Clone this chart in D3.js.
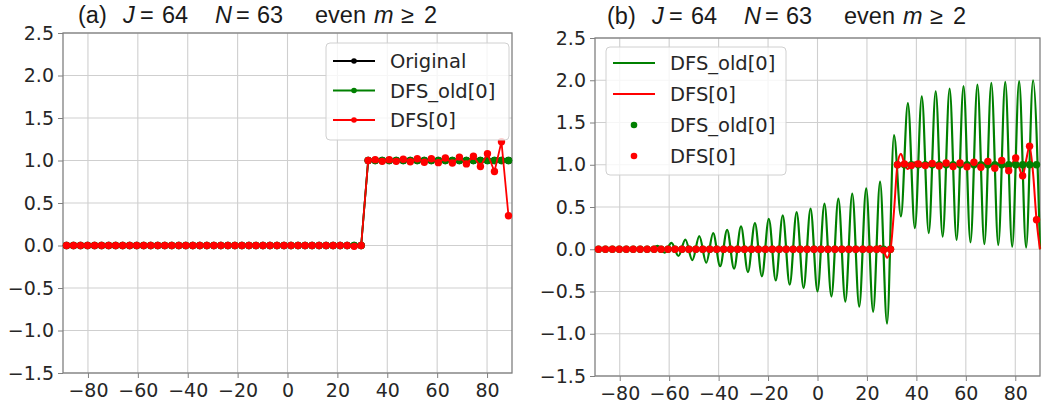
<!DOCTYPE html>
<html lang="en">
<head>
<meta charset="UTF-8">
<title>DFS J=64 N=63</title>
<script src="https://d3js.org/d3.v7.min.js"></script>
<style>
    body { margin: 0; background: #fff; }
    .tick text { font-family: "DejaVu Sans", sans-serif; font-size: 19px; fill: #262626; }
    .legend_text { font-family: "DejaVu Sans", sans-serif; font-size: 19.5px; fill: #262626; }
    .title { font-family: "Liberation Sans", Arial, sans-serif; font-size: 23.5px; fill: #1a1a1a; }
</style>
</head>
<body>
<svg id="chart"></svg>
<script>
    const width = 1054, height = 410;

    // latitude grid points (J = 64)
    const lat = [-88.59, -85.78, -82.97, -80.16, -77.34, -74.53, -71.72, -68.91,
        -66.09, -63.28, -60.47, -57.66, -54.84, -52.03, -49.22, -46.41,
        -43.59, -40.78, -37.97, -35.16, -32.34, -29.53, -26.72, -23.91,
        -21.09, -18.28, -15.47, -12.66, -9.84, -7.03, -4.22, -1.41,
        1.41, 4.22, 7.03, 9.84, 12.66, 15.47, 18.28, 21.09,
        23.91, 26.72, 29.53, 32.34, 35.16, 37.97, 40.78, 43.59,
        46.41, 49.22, 52.03, 54.84, 57.66, 60.47, 63.28, 66.09,
        68.91, 71.72, 74.53, 77.34, 80.16, 82.97, 85.78, 88.59];

    // half-way points between grid points, where the continuous curves are sampled
    const latMid = [-90, -87.19, -84.38, -81.56, -78.75, -75.94, -73.13, -70.31,
        -67.5, -64.69, -61.88, -59.06, -56.25, -53.44, -50.63, -47.81,
        -45, -42.19, -39.38, -36.56, -33.75, -30.94, -28.13, -25.31,
        -22.5, -19.69, -16.88, -14.06, -11.25, -8.44, -5.63, -2.81,
        0, 2.81, 5.63, 8.44, 11.25, 14.06, 16.88, 19.69,
        22.5, 25.31, 28.13, 30.94, 33.75, 36.56, 39.38, 42.19,
        45, 47.81, 50.63, 53.44, 56.25, 59.06, 61.88, 64.69,
        67.5, 70.31, 73.13, 75.94, 78.75, 81.56, 84.38, 87.19, 90];

    const original = [0, 0, 0, 0, 0, 0, 0, 0, 0, 0, 0, 0, 0, 0, 0, 0,
        0, 0, 0, 0, 0, 0, 0, 0, 0, 0, 0, 0, 0, 0, 0, 0,
        0, 0, 0, 0, 0, 0, 0, 0, 0, 0, 0, 1, 1, 1, 1, 1,
        1, 1, 1, 1, 1, 1, 1, 1, 1, 1, 1, 1, 1, 1, 1, 1];

    const dfsOld = [0, 0, 0, 0, 0, 0, 0, 0, 0, 0, 0, 0, 0, 0, 0, 0,
        0, 0, 0, 0, 0, 0, 0, 0, 0, 0, 0, 0, 0, 0, 0, 0,
        0, 0, 0, 0, 0, 0, 0, 0, 0, 0, 0, 1, 1, 1, 1, 1,
        1, 1, 1, 1, 1, 1, 1, 1, 1, 1, 1, 1, 1, 1, 1, 1];

    const dfs = [0, 0, 0, 0, 0, 0, 0, 0, 0, 0, 0, 0, 0, 0, 0, 0,
        0, 0, 0, 0, 0, 0, 0, 0, 0, 0, 0, 0, 0, 0, 0, 0,
        0, 0, 0, 0, 0, 0, 0, 0, 0, -0.01, 0, 1.0, 1.01, 0.99, 1.01, 0.99,
        1.015, 0.985, 1.02, 0.98, 1.02, 0.975, 1.03, 0.97, 1.04, 0.96, 1.05, 0.93, 1.08, 0.87, 1.22, 0.35];

    // DFS_old[0] continuous curve, sampled at latMid (panel b)
    const dfsOldCurve = [0, 0, 0, 0, 0, 0, 0, 0.005,
        -0.01, 0.04, -0.04, 0.075, -0.08, 0.115, -0.13, 0.155,
        -0.16, 0.19, -0.20, 0.23, -0.23, 0.27, -0.27, 0.31,
        -0.32, 0.36, -0.37, 0.40, -0.42, 0.44, -0.46, 0.48,
        -0.50, 0.54, -0.56, 0.60, -0.62, 0.66, -0.68, 0.72,
        -0.74, 0.80, -0.88, 1.35, 0.39, 1.73, 0.25, 1.81,
        0.19, 1.87, 0.15, 1.90, 0.11, 1.93, 0.08, 1.95,
        0.06, 1.97, 0.05, 1.98, 0.03, 1.99, 0.02, 2.00, 0.0];

    // DFS[0] continuous curve between the grid points, sampled at latMid (panel b)
    const dfsCurveMid = [0, 0, 0, 0, 0, 0, 0, 0,
        0, 0, 0, 0, 0, 0, 0, 0,
        0, 0, 0, 0, 0, 0, 0, 0,
        0, 0, 0, 0, 0, 0, 0, 0,
        0, 0, 0, 0, 0, 0, 0, 0.01,
        0, 0.04, -0.1, 0.45, 1.13, 0.95, 1.03, 0.98,
        1.02, 0.99, 1.01, 0.99, 1.01, 0.99, 1.01, 0.99,
        1.01, 0.99, 1.01, 0.98, 1.01, 0.97, 1.05, 0.9, 0.0];

    const xTicks = [-80, -60, -40, -20, 0, 20, 40, 60, 80];
    const yTicks = [-1.5, -1.0, -0.5, 0.0, 0.5, 1.0, 1.5, 2.0, 2.5];

    const svg = d3.select("#chart").attr("width", width).attr("height", height);
    const fmtY = d => d3.format(".1f")(d).replace("-", "\u2212");
    const fmtX = d => String(d).replace("-", "\u2212");

    function makePanel(box) {
        const x = d3.scaleLinear().domain([-90, 90]).range([box.x0, box.x1]);
        const y = d3.scaleLinear().domain([-1.5, 2.5]).range([box.y1, box.y0]);
        const g = svg.append("g");

        // grid
        g.append("g").selectAll("line").data(xTicks).join("line")
            .attr("x1", d => x(d)).attr("x2", d => x(d))
            .attr("y1", box.y0).attr("y2", box.y1)
            .attr("stroke", "#cfcfcf").attr("stroke-width", 1.1);
        g.append("g").selectAll("line").data(yTicks).join("line")
            .attr("y1", d => y(d)).attr("y2", d => y(d))
            .attr("x1", box.x0).attr("x2", box.x1)
            .attr("stroke", "#cfcfcf").attr("stroke-width", 1.1);

        const xAxis = g.append("g").attr("transform", `translate(0,${box.y1})`)
            .call(d3.axisBottom(x).tickValues(xTicks).tickFormat(fmtX).tickSize(5).tickPadding(6));
        const yAxis = g.append("g").attr("transform", `translate(${box.x0},0)`)
            .call(d3.axisLeft(y).tickValues(yTicks).tickFormat(fmtY).tickSize(5).tickPadding(4));
        [xAxis, yAxis].forEach(a => {
            a.select(".domain").remove();
            a.selectAll(".tick line").attr("stroke", "#808080");
        });

        g.append("rect").attr("class", "frame")
            .attr("x", box.x0).attr("y", box.y0)
            .attr("width", box.x1 - box.x0).attr("height", box.y1 - box.y0)
            .attr("fill", "none").attr("stroke", "#808080").attr("stroke-width", 1.3);

        const plot = svg.append("g");
        return {x, y, g, plot};
    }

    // title words placed like the reference: offsets from the left end of the title
    const titleWords = [
        {s: "J", dx: 45, it: true}, {s: "=", dx: 62}, {s: "64", dx: 84},
        {s: "N", dx: 137, it: true}, {s: "=", dx: 158}, {s: "63", dx: 179},
        {s: "even", dx: 237}, {s: "m", dx: 296, it: true}, {s: "\u2265", dx: 323}, {s: "2", dx: 346}
    ];

    function title(x0, baseline, label) {
        const t = svg.append("text").attr("class", "title").attr("y", baseline);
        t.append("tspan").attr("x", x0).text(label);
        titleWords.forEach(w => {
            const ts = t.append("tspan").attr("x", x0 + w.dx).text(w.s);
            if (w.it) ts.attr("font-style", "italic");
        });
    }

    function legend(box, entries) {
        const lg = svg.append("g");
        lg.append("rect").attr("x", box.x).attr("y", box.y)
            .attr("width", box.w).attr("height", box.h).attr("rx", 4)
            .attr("fill", "#fff").attr("fill-opacity", 0.8)
            .attr("stroke", "#d0d0d0").attr("stroke-width", 1);
        entries.forEach((e, i) => {
            const yy = box.y + box.first + i * box.step;
            if (e.line) lg.append("line")
                .attr("x1", box.x + 7).attr("x2", box.x + 49)
                .attr("y1", yy).attr("y2", yy)
                .attr("stroke", e.color).attr("stroke-width", 2);
            if (e.dot) lg.append("circle")
                .attr("cx", box.x + 28).attr("cy", yy).attr("r", e.r)
                .attr("fill", e.color);
            lg.append("text").attr("class", "legend_text")
                .attr("x", box.x + 64).attr("y", yy).attr("dy", "0.36em")
                .text(e.label);
        });
    }

    // ---------- panel (a)
    const pa = makePanel({x0: 63, x1: 512, y0: 33, y1: 373});
    const seriesA = [
        {vals: original, color: "#000000"},
        {vals: dfsOld, color: "#008000"},
        {vals: dfs, color: "#ff0000"}
    ];
    seriesA.forEach(s => {
        const pts = lat.map((d, i) => [d, s.vals[i]]);
        pa.plot.append("path").datum(pts)
            .attr("fill", "none").attr("stroke", s.color).attr("stroke-width", 1.8)
            .attr("d", d3.line().x(d => pa.x(d[0])).y(d => pa.y(d[1])));
        pa.plot.append("g").selectAll("circle").data(pts).join("circle")
            .attr("cx", d => pa.x(d[0])).attr("cy", d => pa.y(d[1]))
            .attr("r", 3.7).attr("fill", s.color);
    });
    title(78, 22.5, "(a)");
    legend({x: 326, y: 43, w: 183, h: 97, first: 18, step: 29.5}, [
        {label: "Original", color: "#000000", line: true, dot: true, r: 2.8},
        {label: "DFS_old[0]", color: "#008000", line: true, dot: true, r: 2.8},
        {label: "DFS[0]", color: "#ff0000", line: true, dot: true, r: 2.8}
    ]);

    // ---------- panel (b)
    const pb = makePanel({x0: 595, x1: 1040, y0: 38, y1: 376});
    const greenCurve = latMid.map((d, i) => [d, dfsOldCurve[i]]);
    const redCurve = latMid.map((d, i) => [d, dfsCurveMid[i]])
        .concat(lat.map((d, i) => [d, dfs[i]]))
        .sort((a, b) => a[0] - b[0]);
    const smooth = d3.line().curve(d3.curveMonotoneX)
        .x(d => pb.x(d[0])).y(d => pb.y(d[1]));
    pb.plot.append("path").datum(greenCurve)
        .attr("fill", "none").attr("stroke", "#008000").attr("stroke-width", 2.2)
        .attr("d", smooth);
    pb.plot.append("path").datum(redCurve)
        .attr("fill", "none").attr("stroke", "#ff0000").attr("stroke-width", 2)
        .attr("d", smooth);
    pb.plot.append("g").selectAll("circle").data(lat.map((d, i) => [d, dfsOld[i]])).join("circle")
        .attr("cx", d => pb.x(d[0])).attr("cy", d => pb.y(d[1]))
        .attr("r", 3.7).attr("fill", "#008000");
    pb.plot.append("g").selectAll("circle").data(lat.map((d, i) => [d, dfs[i]])).join("circle")
        .attr("cx", d => pb.x(d[0])).attr("cy", d => pb.y(d[1]))
        .attr("r", 3.7).attr("fill", "#ff0000");
    title(607, 23.5, "(b)");
    legend({x: 606, y: 47, w: 180, h: 128, first: 16, step: 31}, [
        {label: "DFS_old[0]", color: "#008000", line: true},
        {label: "DFS[0]", color: "#ff0000", line: true},
        {label: "DFS_old[0]", color: "#008000", dot: true, r: 3.3},
        {label: "DFS[0]", color: "#ff0000", dot: true, r: 3.3}
    ]);
</script>
</body>
</html>
